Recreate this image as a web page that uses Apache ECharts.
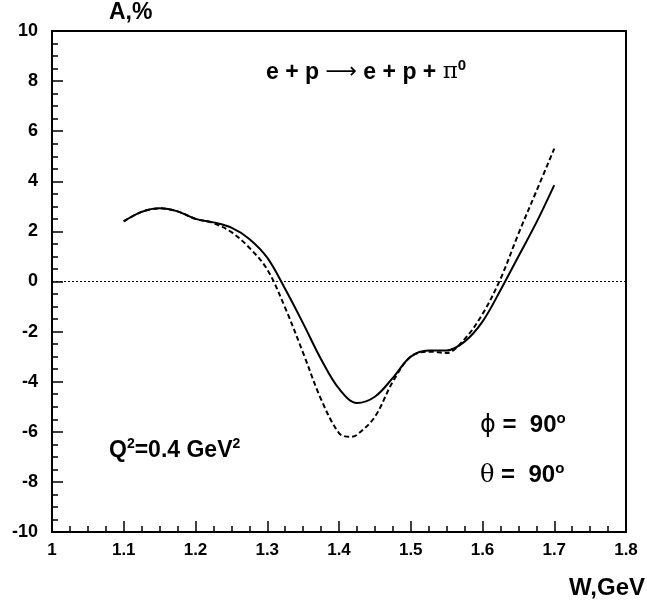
<!DOCTYPE html>
<html><head><meta charset="utf-8">
<script src="https://cdn.jsdelivr.net/npm/echarts@6/dist/echarts.min.js"></script>
<style>html,body{margin:0;padding:0;background:#fff}#c{width:647px;height:603px}</style>
</head><body><div id="c"></div>
<script>
const W = [1.10,1.125,1.15,1.175,1.20,1.225,1.25,1.275,1.30,1.325,1.35,1.375,1.40,1.425,1.45,1.475,1.50,1.525,1.55,1.575,1.60,1.625,1.65,1.675,1.70];
const solidA = [2.40,2.78,2.92,2.80,2.50,2.36,2.15,1.70,0.95,-0.30,-1.67,-3.10,-4.28,-4.85,-4.60,-3.85,-3.00,-2.75,-2.75,-2.40,-1.60,-0.35,1.00,2.35,3.85];
const dashedW = [1.10,1.125,1.15,1.175,1.20,1.225,1.25,1.275,1.30,1.325,1.35,1.375,1.40,1.415,1.425,1.45,1.475,1.50,1.525,1.55,1.575,1.60,1.625,1.65,1.675,1.70];
const dashedA = [2.40,2.78,2.92,2.80,2.50,2.33,1.97,1.35,0.48,-1.05,-2.85,-4.70,-6.05,-6.20,-6.12,-5.40,-4.00,-3.00,-2.80,-2.85,-2.30,-1.30,0.10,1.90,3.60,5.30];
const xTicks = [1,1.1,1.2,1.3,1.4,1.5,1.6,1.7,1.8];
const yTicks = [-10,-8,-6,-4,-2,0,2,4,6,8,10];

const font = '"Liberation Sans", Arial, sans-serif';
const chart = echarts.init(document.getElementById('c'), null, {renderer:'canvas'});
const lbl = {color:'#000',fontFamily:font,fontWeight:'bold',fontSize:18};
const xMin = xTicks[0], xMax = xTicks[xTicks.length-1], yMin = yTicks[0], yMax = yTicks[yTicks.length-1];
chart.setOption({
  animation:false,
  grid:{left:52,top:31,right:21,bottom:71,show:true,borderColor:'#000',borderWidth:2,containLabel:false},
  xAxis:[
    {type:'value',min:xMin,max:xMax,interval:0.1,
     axisLine:{show:true,onZero:false,lineStyle:{color:'#000',width:2}},
     axisTick:{show:true,inside:true,length:11,lineStyle:{color:'#000',width:1.5}},
     splitLine:{show:false},
     axisLabel:Object.assign({},lbl,{fontSize:17,margin:10,formatter:v=>{const t=xTicks.find(x=>Math.abs(x-v)<1e-6);return t===undefined?'':String(t);}})},
    {type:'value',min:xMin,max:xMax,interval:0.025,position:'bottom',
     axisLine:{show:false,onZero:false},axisTick:{show:true,inside:true,length:6,lineStyle:{color:'#000',width:1.5}},
     splitLine:{show:false},axisLabel:{show:false}}
  ],
  yAxis:[
    {type:'value',min:yMin,max:yMax,interval:2,
     axisLine:{show:true,onZero:false,lineStyle:{color:'#000',width:2}},
     axisTick:{show:true,inside:true,length:11,lineStyle:{color:'#000',width:1.5}},
     splitLine:{show:false},
     axisLabel:Object.assign({},lbl,{margin:14})},
    {type:'value',min:yMin,max:yMax,interval:0.5,position:'left',
     axisLine:{show:false,onZero:false},axisTick:{show:true,inside:true,length:6,lineStyle:{color:'#000',width:1.5}},
     splitLine:{show:false},axisLabel:{show:false}}
  ],
  series:[
    {type:'line',data:W.map((w,i)=>[w,solidA[i]]),smooth:0.35,showSymbol:false,lineStyle:{color:'#000',width:2},
     markLine:{silent:true,symbol:'none',label:{show:false},lineStyle:{color:'#000',type:[2,2],width:1.2},data:[{yAxis:0}]}},
    {type:'line',data:dashedW.map((w,i)=>[w,dashedA[i]]),smooth:0.35,showSymbol:false,lineStyle:{color:'#000',width:2,type:[5,3]}}
  ],
  graphic:[
    {type:'text',left:109,top:1,style:{text:'A,%',font:'bold 23px '+font,fill:'#000'}},
    {type:'text',left:569,top:576,style:{text:'W,GeV',font:'bold 24px '+font,fill:'#000'}},
    {type:'text',left:266,top:58,style:{text:'{a|e + p }{p|⟶}{a| e + p + }{pi|π}{s|0}',
      rich:{a:{fontFamily:font,fontWeight:'bold',fontSize:23,fill:'#000'},p:{fontFamily:'"DejaVu Sans"',fontSize:22,fill:'#000'},
        pi:{fontFamily:'"DejaVu Serif"',fontSize:23,fill:'#000'},s:{fontFamily:font,fontWeight:'bold',fontSize:15,fill:'#000',padding:[0,0,14,0]}}}},
    {type:'text',left:109,top:437,style:{text:'{a|Q}{s|2}{a|=0.4 GeV}{s|2}',
      rich:{a:{fontFamily:font,fontWeight:'bold',fontSize:23,fill:'#000'},s:{fontFamily:font,fontWeight:'bold',fontSize:14,fill:'#000',padding:[0,0,13,0]}}}},
    {type:'text',left:480,top:411,style:{text:'{g|ϕ}{a| =  90}{s|o}',
      rich:{g:{fontFamily:'"DejaVu Sans"',fontSize:24,fill:'#000'},a:{fontFamily:font,fontWeight:'bold',fontSize:24,fill:'#000'},s:{fontFamily:font,fontWeight:'bold',fontSize:15,fill:'#000',padding:[0,0,14,0]}}}},
    {type:'text',left:480,top:461,style:{text:'{g|θ}{a| =  90}{s|o}',
      rich:{g:{fontFamily:'"DejaVu Serif"',fontSize:24,fill:'#000'},a:{fontFamily:font,fontWeight:'bold',fontSize:24,fill:'#000'},s:{fontFamily:font,fontWeight:'bold',fontSize:15,fill:'#000',padding:[0,0,14,0]}}}}
  ]
});
</script></body></html>
